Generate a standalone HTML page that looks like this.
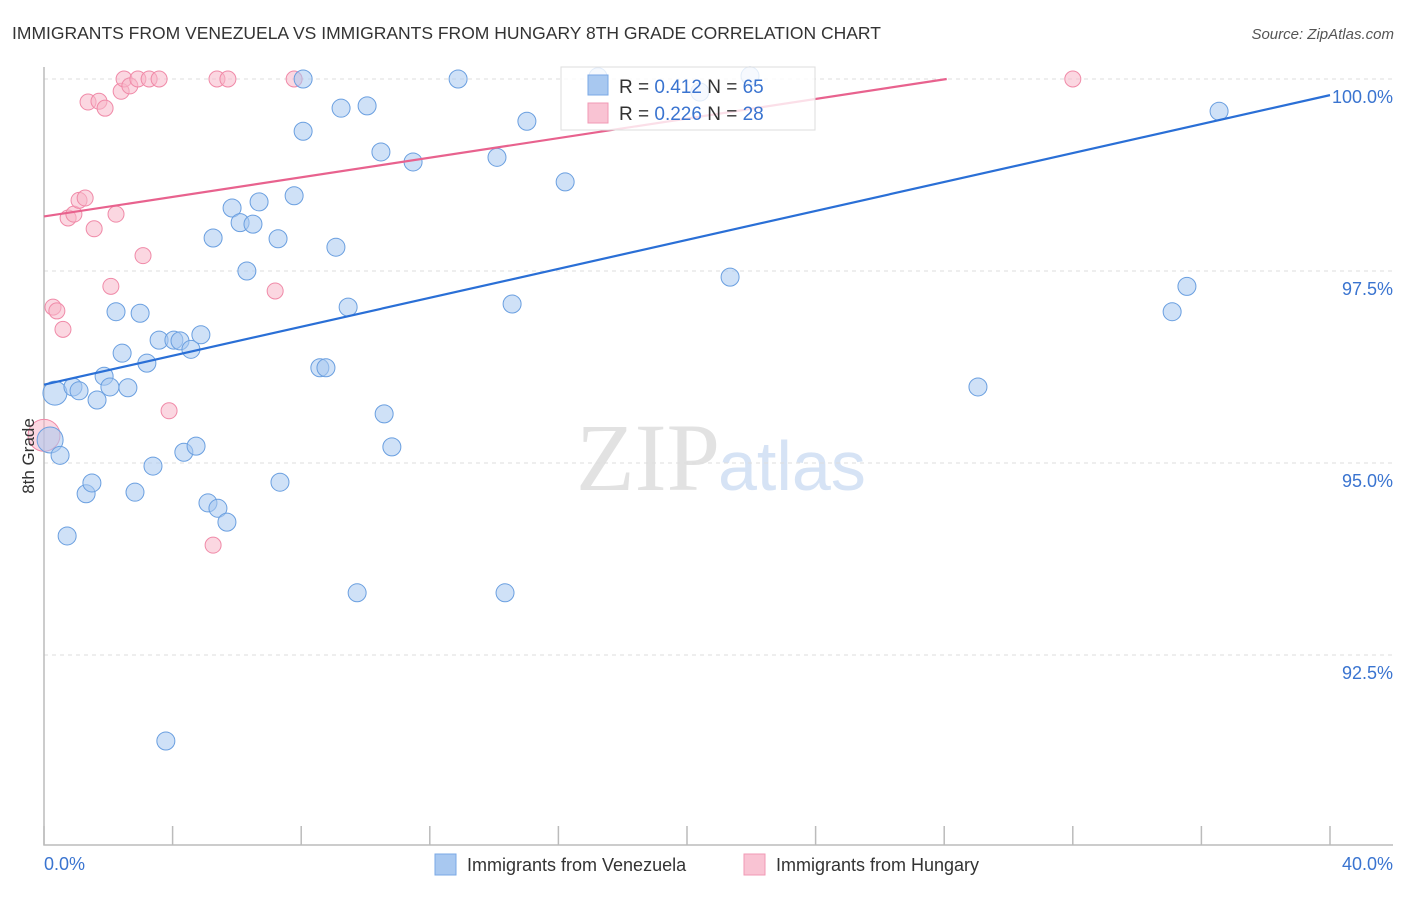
<!DOCTYPE html>
<html><head><meta charset="utf-8"><style>
body{margin:0;background:#fff;font-family:"Liberation Sans",sans-serif}
svg text{font-family:"Liberation Sans",sans-serif}
</style></head><body>
<svg id="c" width="1406" height="892" xmlns="http://www.w3.org/2000/svg">
<text x="12" y="39" font-size="17.5" fill="#333">IMMIGRANTS FROM VENEZUELA VS IMMIGRANTS FROM HUNGARY 8TH GRADE CORRELATION CHART</text>
<text x="1394" y="39" font-size="15" fill="#555" font-style="italic" text-anchor="end">Source: ZipAtlas.com</text>
<text x="720" y="490" font-size="96" fill="#e2e2e2" text-anchor="end" font-family="Liberation Serif" style="font-family:'Liberation Serif',serif">ZIP</text>
<text x="718" y="490" font-size="70" fill="#d6e3f5">atlas</text>
<g id="grid"></g><g id="axes"></g><g id="pts"></g><g id="trend"></g>
<text x="34" y="456" font-size="17" fill="#333" text-anchor="middle" transform="rotate(-90 34 456)">8th Grade</text>
<g>
<rect x="561" y="67" width="254" height="63" fill="#fff" fill-opacity="0.8" stroke="#ddd"/>
<rect x="588" y="75" width="20" height="20" fill="#a8c8f0" stroke="#7aa8e6"/>
<rect x="588" y="103" width="20" height="20" fill="#f9c3d3" stroke="#f19ab5"/>
<text x="619" y="93" font-size="19" fill="#333">R = <tspan fill="#3a74d0">0.412</tspan>   N = <tspan fill="#3a74d0">65</tspan></text>
<text x="619" y="120" font-size="19" fill="#333">R = <tspan fill="#3a74d0">0.226</tspan>   N = <tspan fill="#3a74d0">28</tspan></text>
</g>
<g>
<rect x="435" y="854" width="21" height="21" fill="#a8c8f0" stroke="#7aa8e6"/>
<text x="467" y="871" font-size="18" fill="#333">Immigrants from Venezuela</text>
<rect x="744" y="854" width="21" height="21" fill="#f9c3d3" stroke="#f19ab5"/>
<text x="776" y="871" font-size="18" fill="#333">Immigrants from Hungary</text>
</g>
</svg>
<script>
const xTicks=[0,4,8,12,16,20,24,28,32,36,40];
const yTicks=[92.5,95,97.5,100];
const yTickLabels=["92.5%","95.0%","97.5%","100.0%"];
const blueX=[0.34,0.19,0.5,0.9,1.09,1.65,1.87,2.05,2.61,2.43,2.24,2.99,3.2,3.58,4.04,4.23,4.57,4.88,1.31,1.49,0.72,2.83,3.39,4.35,4.73,5.1,5.41,5.69,7.34,3.79,5.26,5.85,6.1,6.5,6.69,7.28,6.31,7.78,8.06,8.06,9.08,9.24,10.05,10.48,11.48,12.88,9.46,8.58,8.77,10.58,10.82,9.74,14.34,14.09,15.02,14.56,16.21,21.34,29.05,35.09,35.55,36.55,21.96,17.23,20.4];
const blueY=[95.91,95.3,95.1,95.99,95.94,95.82,96.13,95.99,95.98,96.43,96.97,96.95,96.3,96.6,96.6,96.59,96.48,96.67,94.6,94.74,94.05,94.62,94.96,95.14,95.22,94.48,94.41,94.23,94.75,91.38,97.93,98.32,98.13,98.11,98.4,97.92,97.5,98.48,99.32,100,97.81,99.62,99.65,99.05,98.92,100,97.03,96.24,96.24,95.64,95.21,93.31,93.31,98.98,99.45,97.07,98.66,97.42,95.99,96.97,97.3,99.58,100.04,100.03,99.83];
const blueR=[12,13,9,9,9,9,9,9,9,9,9,9,9,9,9,9,9,9,9,9,9,9,9,9,9,9,9,9,9,9,9,9,9,9,9,9,9,9,9,9,9,9,9,9,9,9,9,9,9,9,9,9,9,9,9,9,9,9,9,9,9,9,9,9,9];
const pinkX=[0,0.28,0.4,0.59,0.75,0.93,1.09,1.28,1.56,1.37,1.71,1.9,2.24,2.08,3.08,2.4,2.49,2.67,2.92,3.27,3.58,5.38,5.72,7.78,7.19,3.89,5.26,32.0];
const pinkY=[95.36,97.03,96.98,96.74,98.19,98.24,98.42,98.45,98.05,99.7,99.71,99.62,98.24,97.3,97.7,99.84,100,99.91,100,100,100,100,100,100,97.24,95.68,93.93,100];
const pinkR=[16,8,8,8,8,8,8,8,8,8,8,8,8,8,8,8,8,8,8,8,8,8,8,8,8,8,8,8];
const blueTrend=[96.02,99.79];
const pinkTrend=[98.21,100.76];
const NS="http://www.w3.org/2000/svg";
const X=v=>44+v*(1286/40);
const Y=v=>79+(100-v)*76.8;
function mk(t,a,p){const e=document.createElementNS(NS,t);for(const k in a)e.setAttribute(k,a[k]);p.appendChild(e);return e;}
const grid=document.getElementById('grid'),axes=document.getElementById('axes'),pts=document.getElementById('pts'),tr=document.getElementById('trend');
yTicks.forEach((v,i)=>{
 const l=mk('line',{x1:44,x2:1393,y1:Y(v),y2:Y(v),stroke:'#ddd','stroke-dasharray':'4,4'},grid);
 
 
 const t=mk('text',{x:1393,y:Y(v)+24,'font-size':18,fill:'#3a74d0','text-anchor':'end'},grid);
 t.textContent=yTickLabels[i];
 
 
});
const ax=mk('path',{d:'M44 67V845H1393',fill:'none',stroke:'#bbb','stroke-width':1.5},axes);


xTicks.forEach(v=>{
 const l=mk('line',{x1:X(v),x2:X(v),y1:826,y2:845,stroke:'#bbb','stroke-width':1.5},axes);
 
 
});
[[0,'start','0.0%'],[40,'end','40.0%']].forEach(([v,a,s])=>{
 const t=mk('text',{x:v==0?44:1393,y:870,'font-size':18,fill:'#3a74d0','text-anchor':a},axes);
 t.textContent=s;
 
 
});
pinkX.forEach((v,i)=>{
 const c=mk('circle',{cx:X(v),cy:Y(pinkY[i]),r:pinkR[i],fill:'#f7b6c8','fill-opacity':0.55,stroke:'#f08aa8','stroke-width':1},pts);
 
 
});
blueX.forEach((v,i)=>{
 const c=mk('circle',{cx:X(v),cy:Y(blueY[i]),r:blueR[i],fill:'#a8c8f0','fill-opacity':0.55,stroke:'#6a9fe0','stroke-width':1},pts);
 
 
});
const b=mk('line',{x1:X(0),y1:Y(blueTrend[0]),x2:X(40),y2:Y(blueTrend[1]),stroke:'#2a6fd6','stroke-width':2.2},tr);


const xe=40*(100-pinkTrend[0])/(pinkTrend[1]-pinkTrend[0]);
const p=mk('line',{x1:X(0),y1:Y(pinkTrend[0]),x2:X(Math.min(40,xe)),y2:Y(Math.min(100,pinkTrend[1])),stroke:'#e8628e','stroke-width':2.2},tr);


</script>
</body></html>
